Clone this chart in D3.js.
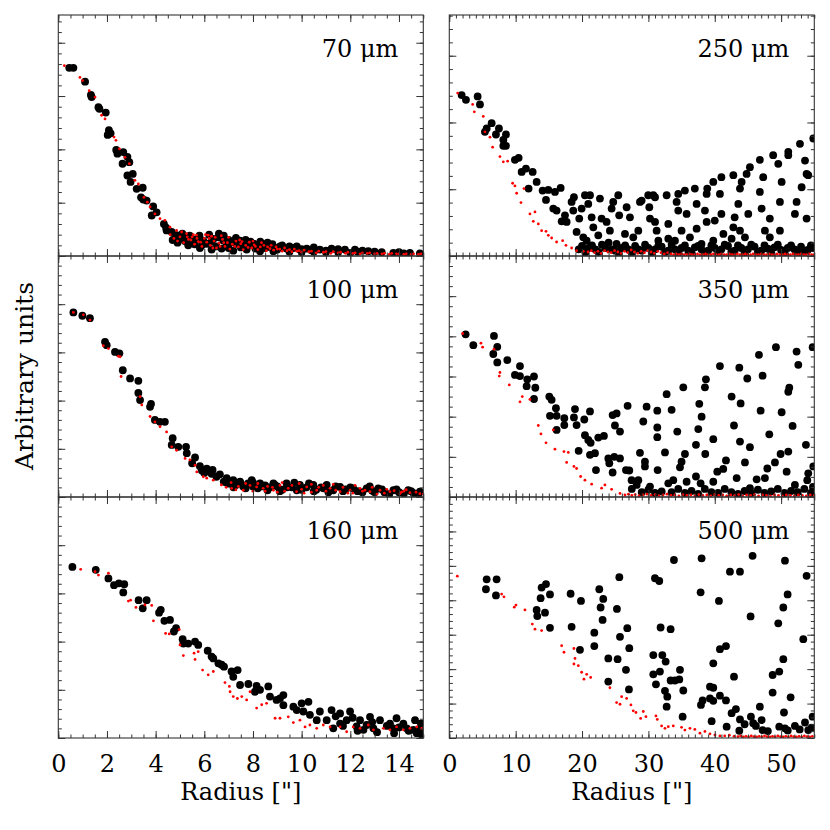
<!DOCTYPE html>
<html><head><meta charset="utf-8">
<script src="https://cdn.jsdelivr.net/npm/d3@7"></script>
<style>body{margin:0;background:#fff}svg{display:block}</style>
</head><body>
<svg id="c" width="830" height="830"></svg>
<script>
// ---------- data ----------
const labels = ["70 μm","100 μm","160 μm","250 μm","350 μm","500 μm"];
const xTicksLeft = [0,2,4,6,8,10,12,14];
const xTicksRight = [0,10,20,30,40,50];
const xLabel = "Radius [\"]";
const yLabel = "Arbitrary units";

const black70 = [[0.45,3.53],[0.62,3.53],[1.10,3.27],[1.34,3.02],[1.37,2.98],[1.65,2.79],[1.69,2.76],[1.95,2.69],[2.08,2.36],[2.03,2.27],[2.15,2.30],[2.38,1.99],[2.43,1.92],[2.67,1.95],[2.84,1.86],[2.92,1.76],[2.64,1.73],[2.84,1.51],[3.06,1.54],[2.97,1.39],[3.22,1.26],[3.47,1.28],[3.40,1.10],[3.49,1.06],[3.63,1.04],[3.90,0.93],[3.84,0.76],[4.04,0.82],[4.34,0.60],[4.43,0.53],[4.45,0.48],[4.66,0.45],[4.86,0.39],[5.07,0.35],[5.28,0.35],[5.48,0.30],[5.69,0.32],[5.96,0.29],[6.10,0.23],[6.37,0.32],[6.58,0.35],[6.78,0.29],[6.92,0.20],[7.12,0.26],[7.33,0.23],[7.47,0.29],[7.60,0.24],[7.81,0.20],[8.02,0.23],[8.22,0.18],[8.43,0.22],[8.70,0.17],[8.90,0.15],[9.11,0.18],[9.38,0.14],[9.66,0.15],[9.93,0.12],[10.21,0.14],[10.75,0.12],[11.23,0.14],[11.78,0.12],[12.19,0.12],[12.74,0.09],[13.29,0.07],[13.77,0.06],[14.45,0.06],[14.86,0.05],[5.34,0.20],[5.82,0.15],[6.30,0.12],[6.71,0.14],[7.19,0.10],[7.74,0.12],[8.29,0.09],[8.84,0.09],[9.50,0.08],[10.00,0.07],[10.50,0.08],[11.00,0.07],[11.50,0.07],[12.00,0.06],[4.70,0.30],[4.90,0.25],[5.10,0.42],[5.20,0.28],[5.40,0.38],[5.60,0.22],[5.80,0.38],[5.90,0.20],[6.20,0.40],[6.30,0.27],[6.50,0.18],[6.60,0.42],[6.80,0.38],[7.00,0.30],[7.00,0.15],[7.30,0.34],[7.50,0.16],[7.70,0.30],[7.90,0.27],[8.10,0.14],[8.30,0.27],[8.50,0.15],[8.60,0.25],[8.80,0.22],[9.00,0.12],[9.20,0.20],[9.50,0.18],[9.80,0.18],[10.00,0.13],[10.40,0.11],[10.50,0.16],[11.00,0.10],[11.50,0.13],[12.30,0.08],[12.50,0.10],[13.00,0.08],[14.00,0.07],[14.20,0.05]];
const red70 = [[0.25,3.57],[0.89,3.35],[1.00,3.29],[1.27,3.10],[1.51,2.98],[1.78,2.64],[1.92,2.57],[2.29,2.23],[2.37,2.17],[2.51,2.01],[2.74,1.85],[2.92,1.73],[3.15,1.42],[3.29,1.35],[3.52,1.10],[3.66,1.01],[3.77,0.92],[3.97,0.79],[4.18,0.70],[4.38,0.67],[4.59,0.54],[4.86,0.48],[5.07,0.45],[5.27,0.42],[5.68,0.39],[6.16,0.39],[5.30,0.36],[5.55,0.40],[6.30,0.37],[6.70,0.38],[5.45,0.30],[5.60,0.22],[5.75,0.27],[5.90,0.18],[6.00,0.33],[6.10,0.26],[6.25,0.20],[6.40,0.28],[6.50,0.15],[6.60,0.24],[6.75,0.31],[6.85,0.18],[6.95,0.25],[7.05,0.13],[7.15,0.22],[7.30,0.28],[7.40,0.17],[7.50,0.23],[7.60,0.12],[7.70,0.20],[7.85,0.26],[7.95,0.15],[8.05,0.21],[8.20,0.12],[8.30,0.17],[8.45,0.20],[8.55,0.10],[8.70,0.14],[8.85,0.11],[9.00,0.13],[9.20,0.09],[9.40,0.10],[9.60,0.08],[9.80,0.09],[10.00,0.07],[10.30,0.08],[10.60,0.06],[10.90,0.07],[11.20,0.05],[11.50,0.06],[11.80,0.05],[12.10,0.05],[12.40,0.04],[12.70,0.05],[13.00,0.04],[13.30,0.04],[13.60,0.03],[13.90,0.04],[14.20,0.03],[14.50,0.03],[14.80,0.03],[4.60,0.40],[4.75,0.33],[4.90,0.28],[5.00,0.36],[5.15,0.25],[5.35,0.31],[5.50,0.36],[5.70,0.33],[5.85,0.26],[6.05,0.40],[6.20,0.33],[6.35,0.15],[6.45,0.35],[6.65,0.18],[6.80,0.25],[7.00,0.35],[7.25,0.18],[7.45,0.30],[7.55,0.27],[7.80,0.16],[8.00,0.28],[8.10,0.18],[8.35,0.25],[8.60,0.17],[8.75,0.20],[8.95,0.17],[9.10,0.13],[9.30,0.15],[9.50,0.12],[9.70,0.13],[9.90,0.10],[10.10,0.11],[10.40,0.09],[10.70,0.09],[11.00,0.08],[11.30,0.08],[11.60,0.07],[11.90,0.07],[12.20,0.06],[12.50,0.06],[12.80,0.06],[13.10,0.05],[13.40,0.05],[13.70,0.05],[14.00,0.04],[14.30,0.04],[14.60,0.04],[14.90,0.04]];

const black100 = [[0.62,3.83],[0.99,3.76],[1.30,3.71],[1.92,3.22],[1.99,3.15],[2.33,3.01],[2.51,2.98],[2.65,2.63],[2.95,2.46],[3.29,2.41],[3.29,2.16],[3.36,2.01],[3.81,1.93],[3.77,1.87],[3.97,1.60],[4.18,1.56],[4.38,1.56],[4.70,1.22],[4.66,1.08],[4.93,1.04],[5.25,1.04],[5.28,0.91],[5.62,0.82],[5.82,0.64],[6.10,0.59],[6.34,0.56],[6.64,0.47],[6.92,0.39],[7.19,0.35],[7.47,0.32],[7.95,0.35],[8.29,0.28],[8.84,0.28],[9.38,0.28],[9.93,0.25],[10.48,0.25],[11.03,0.25],[11.58,0.21],[12.12,0.18],[12.67,0.18],[13.15,0.18],[13.77,0.14],[14.38,0.14],[14.86,0.11],[5.50,0.70],[5.90,0.55],[6.00,0.50],[6.30,0.48],[6.50,0.42],[6.80,0.32],[7.00,0.28],[7.30,0.25],[7.60,0.22],[7.80,0.28],[8.00,0.22],[8.20,0.18],[8.50,0.24],[8.70,0.20],[9.00,0.22],[9.20,0.15],[9.60,0.20],[9.80,0.14],[10.20,0.20],[10.60,0.15],[10.90,0.18],[11.30,0.14],[11.80,0.16],[12.30,0.12],[12.90,0.13],[13.40,0.10],[14.00,0.10],[14.60,0.08],[6.90,0.30],[7.20,0.20],[7.50,0.28],[7.70,0.18],[8.00,0.30],[8.40,0.22],[8.60,0.14],[8.90,0.25],[9.10,0.12],[9.40,0.20],[9.70,0.30],[10.00,0.15],[10.30,0.28],[10.50,0.12],[10.80,0.20],[11.10,0.10],[11.40,0.22],[11.70,0.12],[12.00,0.20],[12.50,0.10],[12.80,0.22],[13.00,0.10],[13.30,0.16],[13.60,0.06],[13.90,0.16],[14.20,0.07],[14.50,0.12],[14.80,0.06]];
const red100 = [[0.62,3.83],[1.03,3.78],[1.30,3.67],[1.85,3.14],[2.06,3.08],[2.47,2.92],[2.54,2.91],[2.58,2.50],[3.36,2.08],[3.43,1.91],[3.77,1.67],[3.97,1.56],[4.18,1.46],[4.45,1.35],[4.66,1.04],[4.86,0.97],[5.21,0.80],[5.41,0.77],[5.62,0.66],[5.69,0.52],[5.96,0.42],[6.10,0.39],[6.37,0.35],[7.12,0.18],[7.88,0.24],[8.15,0.21],[8.42,0.18],[8.84,0.14],[9.11,0.24],[9.45,0.18],[9.79,0.11],[10.21,0.21],[10.62,0.14],[10.89,0.24],[11.17,0.18],[11.58,0.11],[11.99,0.14],[12.40,0.18],[12.81,0.11],[13.22,0.14],[13.63,0.11],[14.04,0.07],[14.45,0.09],[14.86,0.07],[7.40,0.22],[7.60,0.14],[8.00,0.12],[8.60,0.22],[9.30,0.12],[10.00,0.16],[10.40,0.10],[11.40,0.14],[12.10,0.08],[12.60,0.14],[13.40,0.08],[14.20,0.12],[6.70,0.25],[6.90,0.20],[7.10,0.30],[7.30,0.15],[7.70,0.28],[8.20,0.28],[8.50,0.12],[8.80,0.20],[9.00,0.10],[9.20,0.30],[9.60,0.24],[9.90,0.28],[10.10,0.08],[10.40,0.26],[10.70,0.20],[11.00,0.12],[11.30,0.26],[11.70,0.20],[11.90,0.08],[12.20,0.24],[12.50,0.12],[12.90,0.20],[13.10,0.06],[13.50,0.16],[13.80,0.13],[14.10,0.10],[14.30,0.15],[14.70,0.10],[15.00,0.06]];

const black160 = [[0.58,3.55],[1.54,3.49],[2.06,3.31],[2.29,3.17],[2.49,3.21],[2.71,3.19],[2.67,3.02],[3.30,2.86],[3.63,2.86],[3.47,2.69],[4.14,2.60],[4.21,2.66],[4.36,2.43],[4.59,2.45],[4.84,2.28],[4.75,2.21],[5.11,2.05],[5.14,1.96],[5.34,1.96],[5.62,2.00],[5.75,1.93],[6.14,1.81],[6.30,1.69],[6.58,1.55],[6.81,1.48],[7.12,1.38],[7.37,1.41],[7.19,1.27],[7.81,1.12],[8.15,1.08],[8.08,0.96],[8.63,1.07],[8.70,0.86],[8.97,0.79],[9.25,0.89],[9.25,0.68],[9.66,0.65],[10.00,0.72],[10.28,0.75],[10.07,0.55],[10.34,0.48],[10.75,0.55],[11.23,0.58],[11.03,0.37],[11.58,0.51],[11.99,0.55],[11.85,0.37],[12.40,0.37],[12.81,0.44],[12.67,0.27],[13.22,0.37],[13.63,0.30],[13.90,0.41],[14.18,0.30],[14.66,0.37],[14.86,0.17],[14.59,0.17],[12.54,0.17],[11.30,0.20],[10.62,0.37],[12.26,0.24],[12.95,0.20],[13.77,0.20],[14.32,0.20],[14.73,0.10],[11.58,0.30],[9.80,0.58],[9.11,0.82],[8.29,1.00],[7.47,1.10],[6.71,1.52],[6.37,1.65],[11.40,0.45],[11.70,0.25],[12.10,0.42],[12.30,0.15],[12.90,0.33],[13.10,0.12],[13.50,0.25],[13.80,0.10],[14.00,0.22],[14.40,0.15],[14.90,0.30],[14.95,0.05]];
const red160 = [[0.92,3.50],[1.51,3.45],[1.65,3.38],[2.06,3.42],[2.88,2.84],[2.97,2.86],[3.19,2.71],[3.56,2.76],[3.84,2.75],[3.91,2.43],[4.41,2.17],[4.56,2.16],[4.97,2.25],[5.00,1.93],[5.14,1.71],[5.58,1.76],[5.62,1.63],[5.75,1.79],[5.93,1.41],[6.16,1.31],[6.37,1.38],[6.85,1.15],[7.03,1.07],[7.06,0.96],[7.19,0.86],[7.36,0.82],[7.54,0.86],[7.74,0.79],[7.88,0.96],[8.15,0.62],[8.36,0.69],[8.56,0.72],[8.91,0.41],[9.11,0.41],[9.45,0.44],[9.66,0.32],[9.93,0.37],[10.14,0.23],[10.34,0.27],[10.62,0.20],[10.89,0.27],[11.17,0.23],[11.58,0.23],[11.85,0.13],[12.12,0.23],[12.40,0.20],[12.74,0.27],[12.95,0.17],[13.36,0.20],[13.63,0.17],[13.90,0.23],[14.18,0.17],[14.45,0.20],[14.73,0.23],[14.93,0.20]];

const black250 = [[1.86,2.41],[2.51,2.34],[4.27,2.39],[4.62,2.27],[6.38,1.99],[5.37,1.86],[5.63,1.91],[7.48,1.91],[7.03,1.82],[8.54,1.82],[8.14,1.74],[8.54,1.65],[8.14,1.65],[9.89,1.44],[10.45,1.47],[10.90,1.26],[11.55,1.31],[12.56,1.26],[11.95,1.01],[13.16,1.11],[14.06,0.98],[14.92,0.99],[15.92,0.96],[16.78,1.02],[14.57,0.84],[15.67,0.71],[16.17,0.68],[16.93,0.52],[17.68,0.51],[17.43,0.61],[18.78,0.88],[18.43,0.81],[18.68,0.68],[19.58,0.56],[19.18,0.36],[19.94,0.71],[20.19,0.28],[20.44,0.91],[21.20,0.91],[20.94,0.78],[21.45,0.58],[21.70,0.43],[20.70,0.23],[22.70,0.86],[22.95,0.56],[22.45,0.31],[23.70,0.51],[24.20,0.38],[24.46,0.71],[24.70,0.81],[25.46,0.91],[25.60,0.61],[25.20,0.18],[26.72,0.73],[26.47,0.33],[27.22,0.58],[27.72,0.28],[28.48,0.38],[28.73,0.81],[28.98,0.83],[29.98,0.91],[30.14,0.73],[30.74,0.91],[31.00,0.88],[30.24,0.56],[31.00,0.51],[31.24,0.38],[31.50,0.23],[32.75,0.91],[33.00,0.48],[33.00,0.26],[34.50,0.93],[34.25,0.81],[34.50,0.68],[34.00,0.23],[35.00,0.38],[35.50,0.98],[35.76,0.63],[36.26,0.28],[37.00,1.01],[37.27,0.78],[37.27,0.41],[38.00,0.18],[38.52,0.68],[38.78,0.93],[38.87,1.01],[38.78,0.51],[39.78,1.11],[40.00,0.53],[39.78,0.23],[40.78,0.93],[41.00,1.18],[41.00,0.63],[41.30,0.33],[42.80,1.21],[43.00,0.58],[42.80,0.43],[42.54,0.26],[43.80,1.01],[44.05,1.11],[43.55,0.78],[43.80,0.38],[44.80,1.23],[45.30,1.33],[45.05,0.63],[44.55,0.28],[46.80,1.44],[46.80,0.96],[47.06,0.71],[47.30,1.18],[47.56,0.38],[48.30,0.56],[48.80,1.51],[49.57,1.38],[49.82,0.81],[49.82,0.38],[50.08,1.11],[48.30,0.28],[51.08,1.56],[51.08,1.51],[52.08,0.63],[52.33,0.81],[52.84,1.68],[53.09,1.03],[53.84,1.23],[53.60,1.43],[54.09,1.21],[53.84,0.56],[54.85,1.76],[20.00,0.15],[21.00,0.12],[22.00,0.10],[23.50,0.12],[24.00,0.20],[25.00,0.08],[26.00,0.12],[27.00,0.10],[28.00,0.15],[29.00,0.08],[30.00,0.12],[31.00,0.10],[32.00,0.14],[33.00,0.08],[34.00,0.10],[35.00,0.12],[36.00,0.08],[37.00,0.13],[38.00,0.10],[39.00,0.08],[40.00,0.12],[41.00,0.10],[42.00,0.15],[43.00,0.08],[44.00,0.12],[45.00,0.10],[46.00,0.14],[47.00,0.08],[48.00,0.11],[49.00,0.13],[50.00,0.09],[51.00,0.12],[52.00,0.10],[53.00,0.14],[54.00,0.09],[54.80,0.12],[19.50,0.10],[20.50,0.05],[21.50,0.16],[22.50,0.06],[23.00,0.17],[24.50,0.10],[25.50,0.04],[26.50,0.16],[27.50,0.05],[28.50,0.10],[29.50,0.17],[30.50,0.05],[31.50,0.15],[32.50,0.06],[33.50,0.17],[34.50,0.05],[35.50,0.16],[36.50,0.05],[37.50,0.15],[38.50,0.06],[39.50,0.16],[40.50,0.05],[41.50,0.17],[42.50,0.06],[43.50,0.16],[44.50,0.05],[45.50,0.17],[46.50,0.06],[47.50,0.16],[48.50,0.05],[49.50,0.17],[50.50,0.05],[51.50,0.16],[52.50,0.05],[53.50,0.07],[54.50,0.16]];
const red250 = [[1.26,2.44],[3.52,2.27],[3.77,2.16],[5.12,2.09],[5.37,1.86],[6.13,1.78],[6.53,1.63],[7.63,1.49],[8.14,1.41],[8.79,1.42],[9.54,1.09],[9.89,1.05],[10.15,0.94],[10.80,0.80],[11.25,1.01],[12.15,0.63],[12.91,0.66],[12.66,0.52],[13.41,0.48],[13.91,0.38],[14.57,0.37],[14.92,0.31],[15.42,0.27],[16.17,0.21],[17.08,0.23],[17.58,0.16],[18.43,0.12],[19.18,0.08],[20.19,0.07],[20.90,0.06],[21.40,0.08],[21.90,0.05],[22.40,0.07],[22.90,0.04],[23.40,0.08],[23.90,0.06],[24.40,0.05],[24.90,0.08],[25.40,0.06],[25.90,0.04],[26.40,0.07],[26.90,0.05],[27.40,0.09],[27.90,0.06],[28.40,0.04],[28.90,0.07],[29.40,0.05],[29.90,0.08],[30.40,0.06],[30.90,0.04],[31.40,0.07],[31.90,0.05],[32.40,0.03],[32.90,0.05],[33.40,0.03],[33.80,0.02],[34.20,0.03],[34.60,0.02],[35.00,0.03],[35.40,0.02],[35.80,0.02],[36.20,0.03],[36.60,0.02],[37.00,0.02],[37.40,0.03],[37.80,0.02],[38.20,0.02],[38.60,0.03],[39.00,0.02],[39.40,0.02],[39.80,0.03],[40.20,0.02],[40.60,0.02],[41.00,0.03],[41.40,0.02],[41.80,0.02],[42.20,0.03],[42.60,0.02],[43.00,0.02],[43.40,0.03],[43.80,0.02],[44.20,0.02],[44.60,0.03],[45.00,0.02],[45.40,0.02],[45.80,0.03],[46.20,0.02],[46.60,0.02],[47.00,0.03],[47.40,0.02],[47.80,0.02],[48.20,0.03],[48.60,0.02],[49.00,0.02],[49.40,0.03],[49.80,0.02],[50.20,0.02],[50.60,0.03],[51.00,0.02],[51.40,0.02],[51.80,0.03],[52.20,0.02],[52.60,0.02],[53.00,0.03],[53.40,0.02],[53.80,0.02],[54.20,0.03],[54.60,0.02],[55.00,0.02]];

const black350 = [[2.46,4.05],[3.62,3.78],[6.73,4.01],[7.23,3.74],[6.63,3.56],[7.23,3.35],[8.74,3.41],[10.65,3.26],[9.89,3.04],[10.65,3.01],[11.75,2.93],[12.76,3.00],[11.65,2.76],[12.96,2.72],[12.76,2.44],[15.07,2.50],[15.42,2.42],[16.07,2.21],[15.17,2.02],[16.17,2.02],[16.17,1.67],[17.33,1.96],[17.33,1.79],[18.94,2.19],[18.78,1.98],[19.18,1.79],[20.34,1.93],[21.20,2.13],[20.44,1.54],[20.94,1.42],[21.30,1.35],[22.45,1.48],[23.30,1.52],[19.49,1.15],[21.20,1.05],[21.95,1.09],[22.10,0.67],[23.96,0.96],[24.11,0.84],[24.61,0.61],[24.86,1.00],[25.72,0.96],[24.61,2.04],[25.21,2.08],[24.96,1.78],[25.72,1.63],[26.87,2.27],[26.62,0.67],[27.12,0.66],[27.47,0.42],[28.48,0.42],[28.23,0.30],[28.73,1.10],[29.23,1.88],[29.48,0.88],[29.73,2.25],[29.48,0.76],[30.24,0.26],[31.34,2.15],[31.34,1.73],[31.34,1.49],[31.39,0.67],[32.50,1.11],[32.75,2.56],[33.00,0.34],[33.50,2.17],[33.75,0.42],[34.35,1.63],[34.76,0.74],[35.00,0.88],[35.26,2.73],[35.51,1.07],[35.76,0.38],[37.17,1.30],[37.52,1.69],[37.67,2.32],[38.02,2.00],[37.17,0.51],[37.87,0.34],[38.52,2.73],[38.67,2.93],[38.57,1.07],[39.78,1.44],[39.78,0.38],[40.38,0.63],[40.78,3.26],[41.28,0.70],[41.69,0.91],[42.54,2.50],[42.90,1.78],[43.30,0.47],[43.70,3.22],[43.90,2.33],[43.80,1.38],[44.55,0.86],[44.90,2.95],[45.30,1.24],[45.30,0.22],[46.31,0.44],[46.66,3.54],[46.91,2.15],[47.21,3.02],[47.56,0.47],[47.92,0.71],[48.22,1.56],[49.07,0.86],[49.22,3.73],[49.92,1.07],[50.08,2.11],[50.83,0.63],[51.08,2.62],[51.23,2.72],[51.08,1.13],[51.73,1.77],[52.33,3.62],[52.59,3.29],[52.08,0.30],[53.74,1.30],[54.09,0.59],[53.94,0.42],[54.75,3.73],[54.85,0.76],[27.50,0.20],[29.00,0.12],[30.00,0.18],[31.00,0.10],[32.00,0.14],[33.50,0.12],[34.50,0.20],[35.50,0.10],[36.50,0.15],[37.50,0.08],[38.50,0.20],[39.50,0.12],[40.50,0.10],[41.50,0.20],[42.50,0.12],[43.50,0.08],[44.50,0.15],[45.50,0.10],[46.50,0.18],[47.50,0.10],[48.50,0.14],[49.50,0.20],[50.50,0.10],[51.50,0.15],[52.50,0.12],[53.50,0.20],[54.50,0.10],[54.80,0.25]];
const red350 = [[2.01,4.07],[4.77,3.83],[5.02,3.73],[6.73,3.68],[7.63,3.10],[7.53,3.01],[9.04,2.79],[10.65,2.37],[11.00,2.50],[12.15,2.43],[13.41,1.78],[13.81,1.57],[14.57,1.35],[15.67,1.67],[15.92,1.19],[17.28,1.13],[17.93,1.11],[17.68,0.86],[18.78,0.76],[19.18,0.71],[19.79,0.51],[20.44,0.42],[21.45,0.32],[22.95,0.22],[23.45,0.30],[24.46,0.19],[25.72,0.09],[26.47,0.05],[27.00,0.07],[27.50,0.04],[28.00,0.06],[28.60,0.03],[29.20,0.05],[29.80,0.07],[30.40,0.04],[31.00,0.06],[31.60,0.03],[32.20,0.05],[32.80,0.07],[33.40,0.04],[34.00,0.05],[34.60,0.03],[35.20,0.06],[35.80,0.04],[36.40,0.05],[37.00,0.03],[37.60,0.06],[38.20,0.04],[38.80,0.05],[39.40,0.03],[40.00,0.06],[40.60,0.04],[41.20,0.05],[41.80,0.03],[42.40,0.05],[43.00,0.04],[43.60,0.06],[44.20,0.03],[44.80,0.05],[45.40,0.04],[46.00,0.06],[46.60,0.03],[47.20,0.05],[47.80,0.04],[48.40,0.03],[49.00,0.05],[49.60,0.04],[50.20,0.03],[50.80,0.05],[51.40,0.04],[52.00,0.03],[52.60,0.05],[53.20,0.04],[53.80,0.03],[54.40,0.05],[55.00,0.04]];

const black500 = [[5.63,4.61],[7.13,4.61],[5.52,4.32],[7.03,4.14],[13.91,4.37],[14.57,4.47],[13.76,4.06],[15.17,4.17],[13.16,3.72],[13.26,3.54],[14.42,3.64],[15.17,3.20],[18.28,4.19],[19.84,3.98],[18.43,3.23],[19.69,2.56],[22.60,4.32],[23.20,4.04],[22.80,3.79],[23.10,3.43],[21.85,3.06],[21.85,2.67],[23.96,2.31],[23.96,1.64],[25.62,4.67],[25.26,3.75],[26.82,3.19],[25.72,2.94],[27.12,2.61],[25.36,2.29],[26.62,1.98],[27.07,1.41],[30.99,4.64],[31.64,4.56],[31.84,3.21],[33.35,3.16],[30.74,2.41],[32.10,2.41],[32.60,2.22],[31.74,1.93],[30.74,1.85],[31.14,1.56],[32.50,1.37],[32.85,1.20],[32.75,0.91],[33.35,1.67],[34.00,1.67],[34.66,1.70],[34.76,1.98],[35.26,1.38],[35.16,0.62],[33.85,5.17],[38.02,5.22],[37.87,4.23],[37.92,0.96],[38.17,1.09],[39.28,1.49],[39.78,1.46],[39.28,1.15],[39.78,1.08],[39.53,0.49],[39.78,2.17],[40.78,2.58],[41.69,2.67],[40.63,3.98],[40.78,1.23],[41.69,1.09],[41.79,0.33],[42.29,4.83],[43.80,4.83],[42.90,1.78],[42.54,0.72],[43.19,0.84],[43.80,0.54],[43.70,0.21],[45.40,3.53],[45.70,5.29],[45.45,0.62],[45.80,0.43],[46.80,0.91],[47.06,0.52],[47.21,0.23],[48.72,1.83],[48.72,1.32],[49.72,1.93],[49.57,3.33],[50.33,3.79],[50.33,2.29],[50.43,0.74],[50.58,5.15],[50.98,4.17],[49.72,0.33],[50.58,0.28],[51.43,1.18],[52.08,0.35],[53.34,2.87],[53.84,4.71],[53.60,0.45],[54.09,0.23],[54.75,0.62],[44.50,0.40],[46.20,0.35],[48.00,0.20],[51.00,0.22],[52.80,0.25],[54.60,0.30]];
const red500 = [[1.21,4.70],[7.89,4.18],[8.24,4.10],[9.79,3.80],[10.05,3.86],[11.40,3.72],[12.51,3.31],[12.91,3.16],[13.91,3.12],[16.93,2.68],[17.28,2.49],[18.78,2.60],[18.94,2.31],[18.78,2.15],[19.44,2.10],[19.94,1.91],[20.70,1.85],[21.30,1.76],[20.29,1.71],[24.20,1.46],[25.21,1.03],[25.97,1.20],[25.72,0.98],[26.72,1.15],[27.37,0.96],[27.72,0.79],[28.13,0.74],[28.83,0.57],[29.23,0.77],[29.63,0.62],[31.14,0.64],[31.34,0.54],[31.99,0.35],[32.50,0.28],[33.00,0.33],[33.75,0.35],[35.00,0.31],[35.50,0.23],[36.26,0.28],[37.00,0.25],[37.77,0.14],[38.52,0.19],[39.28,0.12],[40.03,0.09],[40.78,0.06],[41.50,0.06],[42.20,0.08],[42.90,0.05],[43.50,0.04],[43.90,0.06],[44.30,0.03],[44.70,0.05],[45.10,0.03],[45.50,0.06],[45.90,0.04],[46.30,0.03],[46.70,0.05],[47.10,0.03],[47.50,0.06],[47.90,0.04],[48.30,0.03],[48.70,0.05],[49.10,0.03],[49.50,0.06],[49.90,0.04],[50.30,0.03],[50.70,0.05],[51.10,0.03],[51.50,0.06],[51.90,0.04],[52.30,0.03],[52.70,0.05],[53.10,0.03],[53.50,0.06],[53.90,0.04],[54.30,0.03],[54.70,0.05]];

const yMaxes = [4.52, 5, 5, 3.61, 6, 7];
const yMinorSteps = [0.2, 0.2, 0.2, 0.2, 0.25, 0.2];

// ---------- layout ----------
const font = "'DejaVu Serif', serif";
const colX = [[58.3, 423.3], [449.3, 814.3]];
const rowY = [[15, 256], [256, 497], [497, 738]];
const blacks = [black70, black100, black160, black250, black350, black500];
const reds = [red70, red100, red160, red250, red350, red500];

const svg = d3.select("#c");
svg.append("rect").attr("width", 830).attr("height", 830).attr("fill", "#fff");

for (let i = 0; i < 6; i++) {
  const col = i < 3 ? 0 : 1, row = i % 3;
  const xMax = col === 0 ? 15 : 55;
  const x = d3.scaleLinear().domain([0, xMax]).range(colX[col]);
  const y = d3.scaleLinear().domain([0, yMaxes[i]]).range([rowY[row][1], rowY[row][0]]);
  const g = svg.append("g");
  const cid = "clip" + i;
  svg.append("clipPath").attr("id", cid).append("rect")
    .attr("x", colX[col][0]).attr("y", rowY[row][0])
    .attr("width", colX[col][1] - colX[col][0]).attr("height", rowY[row][1] - rowY[row][0]);
  const pts = g.append("g").attr("clip-path", `url(#${cid})`);
  pts.selectAll("circle.b").data(blacks[i]).join("circle").attr("class", "b")
    .attr("cx", d => x(d[0])).attr("cy", d => y(d[1])).attr("r", 3.9).attr("fill", "#000");
  pts.selectAll("circle.r").data(reds[i]).join("circle").attr("class", "r")
    .attr("cx", d => x(d[0])).attr("cy", d => y(d[1])).attr("r", 1.4).attr("fill", "#ff0000");

  // ticks
  const xMajor = d3.range(0, xMax + 1e-9, col === 0 ? 2 : 10);
  const xMinor = d3.range(0, xMax + 1e-9, col === 0 ? 0.5 : 1);
  const yMajor = d3.range(0, yMaxes[i] + 1e-9, 1);
  const yMinor = d3.range(0, yMaxes[i] + 1e-9, yMinorSteps[i]);
  const y0 = rowY[row][1], y1 = rowY[row][0], x0 = colX[col][0], x1 = colX[col][1];
  const addAxis = (axis, tx, ty) => {
    const a = g.append("g").attr("transform", `translate(${tx},${ty})`).call(axis);
    a.select(".domain").remove();
    a.selectAll("line").attr("stroke", "#333").attr("stroke-width", 1);
    return a;
  };
  [[xMinor, 3.5], [xMajor, 7]].forEach(([vals, len]) => {
    addAxis(d3.axisBottom(x).tickValues(vals).tickSize(-len).tickFormat(""), 0, y0);
    addAxis(d3.axisTop(x).tickValues(vals).tickSize(-len).tickFormat(""), 0, y1);
  });
  [[yMinor, 3.5], [yMajor, 7]].forEach(([vals, len]) => {
    addAxis(d3.axisLeft(y).tickValues(vals).tickSize(-len).tickFormat(""), x0, 0);
    addAxis(d3.axisRight(y).tickValues(vals).tickSize(-len).tickFormat(""), x1, 0);
  });
  g.append("rect").attr("x", x0).attr("y", y1).attr("width", x1 - x0).attr("height", y0 - y1)
    .attr("fill", "none").attr("stroke", "#333").attr("stroke-width", 1.1);

  // panel label
  g.append("text").attr("x", x1 - 25).attr("y", y1 + 42).attr("text-anchor", "end")
    .attr("font-family", font).attr("font-size", 24).attr("fill", "#000").text(labels[i]);

  if (row === 2) {
    const lab = g.append("g").attr("transform", `translate(0,${y0})`)
      .call(d3.axisBottom(x).tickValues(col === 0 ? xTicksLeft : xTicksRight).tickSize(0).tickPadding(17).tickFormat(d3.format("d")));
    lab.select(".domain").remove();
    lab.selectAll("text").attr("font-family", font).attr("font-size", 24).attr("fill", "#000");
    g.append("text").attr("x", (x0 + x1) / 2).attr("y", 800).attr("text-anchor", "middle")
      .attr("font-family", font).attr("font-size", 24).attr("fill", "#000").text(xLabel);
  }
}
svg.append("text").attr("transform", "translate(33,376) rotate(-90)").attr("text-anchor", "middle")
  .attr("font-family", font).attr("font-size", 25).attr("fill", "#000").text(yLabel);
</script>
</body></html>
